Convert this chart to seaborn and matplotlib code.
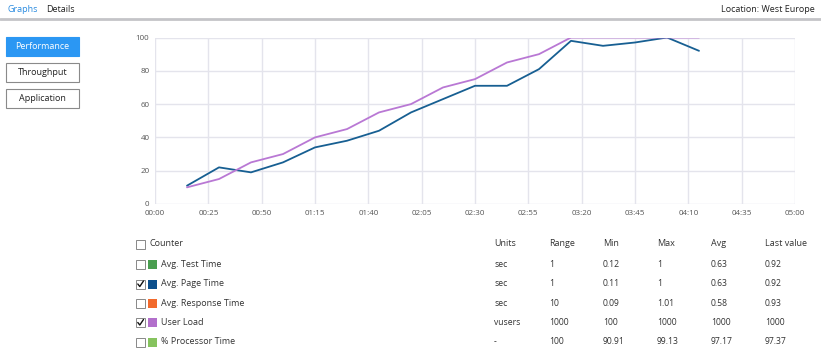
import numpy as np
import matplotlib
matplotlib.use("Agg")
import matplotlib.pyplot as plt
from matplotlib.patches import Rectangle
import pandas as pd
import seaborn as sns

# data (time in seconds)
time_s = [15, 30, 45, 60, 75, 90, 105, 120, 135, 150, 165, 180, 195, 210, 225, 240, 255]
page_time = [11, 22, 19, 25, 34, 38, 44, 55, 63, 71, 71, 81, 98, 95, 97, 100, 92]
user_load = [10, 15, 25, 30, 40, 45, 55, 60, 70, 75, 85, 90, 100, 100, 100, 100, 100]

counters = ["Avg. Test Time", "Avg. Page Time", "Avg. Response Time", "User Load", "% Processor Time"]
counter_colors = ["#4a9e50", "#0c4f8c", "#f26a2c", "#b26fcb", "#86c35e"]
checked = [False, True, False, True, False]
units = ["sec", "sec", "sec", "vusers", "-"]
ranges = ["1", "1", "10", "1000", "100"]
mins = ["0.12", "0.11", "0.09", "100", "90.91"]
maxs = ["1", "1", "1.01", "1000", "99.13"]
avgs = ["0.63", "0.63", "0.58", "1000", "97.17"]
lasts = ["0.92", "0.92", "0.93", "1000", "97.37"]

xticks = list(range(0, 301, 25))
xticklabels = ["%02d:%02d" % (t // 60, t % 60) for t in xticks]

sns.set_style("white")
plt.rcParams['font.family'] = ['Open Sans', 'DejaVu Sans']

W, H = 821, 362
fig = plt.figure(figsize=(W / 100, H / 100), dpi=100)

def fx(px):
    return px / W

def fy(py):
    return 1 - py / H

txt = "#333333"

# top tab bar
fig.text(fx(7), fy(9), "Graphs", color="#2a8be0", fontsize=6.5, va="center")
fig.text(fx(46), fy(9), "Details", color="#222222", fontsize=6.5, va="center")
fig.text(fx(815), fy(9), "Location: West Europe", color="#222222", fontsize=6.5, va="center", ha="right")
fig.add_artist(plt.Line2D([0, 1], [fy(18.5), fy(18.5)], color="#c4c4c8", lw=2))

# left buttons
buttons = ["Performance", "Throughput", "Application"]
for i, b in enumerate(buttons):
    top = 37 + i * 26
    if i == 0:
        fig.add_artist(Rectangle((fx(6), fy(top + 19)), fx(73), 19 / H, facecolor="#2b97f3",
                                 edgecolor="#2b97f3", lw=0.8, transform=fig.transFigure))
        col = "white"
    else:
        fig.add_artist(Rectangle((fx(6), fy(top + 19)), fx(73), 19 / H, facecolor="white",
                                 edgecolor="#8a8a8a", lw=0.8, transform=fig.transFigure))
        col = "#222222"
    fig.text(fx(42.5), fy(top + 9.5), b, color=col, fontsize=6.5, ha="center", va="center")

# chart
ax = fig.add_axes([fx(155), fy(204), fx(640), 166.5 / H])
df = pd.DataFrame({"t": time_s * 2,
                   "v": page_time + user_load,
                   "s": ["Avg. Page Time"] * len(time_s) + ["User Load"] * len(time_s)})
sns.lineplot(data=df, x="t", y="v", hue="s", palette=["#175f92", "#b978d4"],
             hue_order=["Avg. Page Time", "User Load"], linewidth=1.3, legend=False, ax=ax)
ax.set_xlim(0, 300)
ax.set_ylim(0, 100)
ax.set_xticks(xticks)
ax.set_xticklabels(xticklabels)
ax.set_yticks(range(0, 101, 20))
ax.grid(True, color="#e4e4ec", lw=1)
ax.set_axisbelow(True)
for s in ax.spines.values():
    s.set_visible(False)
ax.tick_params(axis="both", length=0, labelsize=5.8, labelcolor="#555555")
ax.tick_params(axis="x", pad=4)
ax.tick_params(axis="y", pad=4)
ax.set_xlabel("")
ax.set_ylabel("")

# counter table
def checkbox(x, y, tick):
    fig.add_artist(Rectangle((fx(x), fy(y + 4.5)), fx(9), 9 / H, facecolor="white",
                             edgecolor="#888888", lw=0.7, transform=fig.transFigure))
    if tick:
        fig.add_artist(plt.Line2D([fx(x + 1.8), fx(x + 3.8), fx(x + 7.5)],
                                  [fy(y), fy(y + 2.5), fy(y - 3)], color="#111111", lw=1.0))

hy = 244
checkbox(136, hy, False)
fig.text(fx(149), fy(hy), "Counter", fontsize=6.5, color=txt, va="center")
cols_x = [494, 549, 603, 657, 711, 765]
for x, h in zip(cols_x, ["Units", "Range", "Min", "Max", "Avg", "Last value"]):
    fig.text(fx(x), fy(hy), h, fontsize=6.5, color=txt, va="center")

row_y = [264.5, 284, 303, 322.5, 342]
for i, name in enumerate(counters):
    y = row_y[i]
    checkbox(136, y, checked[i])
    fig.add_artist(Rectangle((fx(148), fy(y + 4.5)), fx(9), 9 / H, facecolor=counter_colors[i],
                             edgecolor="none", transform=fig.transFigure))
    fig.text(fx(161), fy(y), name, fontsize=6.5, color=txt, va="center")
    vals = [units[i], ranges[i], mins[i], maxs[i], avgs[i], lasts[i]]
    for x, v in zip(cols_x, vals):
        fig.text(fx(x), fy(y), v, fontsize=6.2, color=txt, va="center")

fig.savefig("out.png", dpi=100)
